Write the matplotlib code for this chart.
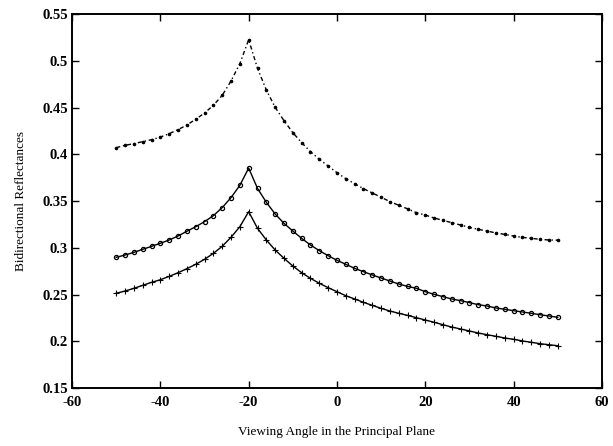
import numpy as np
import matplotlib
matplotlib.use("Agg")
import matplotlib.pyplot as plt

plt.rcParams['font.family'] = ['Liberation Serif', 'DejaVu Serif']

# viewing angles (degrees) in the principal plane
angles = list(range(-50, 51, 2))

# dashed series (dots)
refl_top = [0.407, 0.4096, 0.4113, 0.4135, 0.4156, 0.4184, 0.422, 0.4263,
            0.4313, 0.4374, 0.4441, 0.4523, 0.463, 0.4783, 0.4969, 0.5225,
            0.4919, 0.4687, 0.4502, 0.4359, 0.4231, 0.4124, 0.4028, 0.3946,
            0.3874, 0.3803, 0.3739, 0.3685, 0.3632, 0.3586, 0.354, 0.3493,
            0.3454, 0.3416, 0.3375, 0.335, 0.3318, 0.3293, 0.3268, 0.3243,
            0.3218, 0.3197, 0.3179, 0.3158, 0.3143, 0.3125, 0.3111, 0.3101,
            0.309, 0.3083, 0.3081]

# solid series (open circles)
refl_mid = [0.2898, 0.2922, 0.2951, 0.2983, 0.3015, 0.3048, 0.3083, 0.3126,
            0.3176, 0.3225, 0.3279, 0.3343, 0.3429, 0.3536, 0.3668, 0.3852,
            0.3635, 0.3486, 0.3361, 0.3261, 0.3179, 0.3101, 0.3029, 0.2969,
            0.2915, 0.2866, 0.2823, 0.278, 0.2744, 0.2709, 0.2676, 0.2644,
            0.2612, 0.2587, 0.2566, 0.253, 0.2502, 0.2477, 0.2452, 0.2434,
            0.2413, 0.2391, 0.2377, 0.2356, 0.2342, 0.2327, 0.2313, 0.2299,
            0.2284, 0.227, 0.2256]

# solid series (plus signs)
refl_low = [0.2513, 0.2537, 0.2566, 0.2598, 0.263, 0.2658, 0.2694, 0.2733,
            0.2776, 0.2823, 0.2876, 0.294, 0.3015, 0.3112, 0.3225, 0.3386,
            0.3208, 0.3083, 0.2976, 0.2887, 0.2805, 0.2733, 0.2673, 0.262,
            0.2573, 0.253, 0.2487, 0.2452, 0.2416, 0.2384, 0.2352, 0.2323,
            0.2299, 0.2277, 0.2252, 0.2227, 0.2203, 0.2177, 0.2152, 0.2131,
            0.211, 0.2088, 0.207, 0.2053, 0.2035, 0.2021, 0.2003, 0.1989,
            0.1974, 0.1963, 0.1952]

xticks = [-60, -40, -20, 0, 20, 40, 60]
yticks = [0.15, 0.2, 0.25, 0.3, 0.35, 0.4, 0.45, 0.5, 0.55]
ytick_labels = ['0.15', '0.2', '0.25', '0.3', '0.35', '0.4', '0.45', '0.5', '0.55']

fig = plt.figure(figsize=(6.13, 4.46), dpi=100)
ax = fig.add_axes([0.1175, 0.13, 0.8645, 0.8386])

ax.plot(angles, refl_top, color='black', linestyle=(0, (3, 2, 1, 2)),
        linewidth=1.0, marker='.', markersize=3.2)
ax.plot(angles, refl_mid, color='black', linestyle='-', linewidth=1.0,
        marker='o', markersize=3.0, markerfacecolor='none', markeredgewidth=0.9)
ax.plot(angles, refl_low, color='black', linestyle='-', linewidth=1.0,
        marker='+', markersize=4.2, markeredgewidth=0.8)

ax.set_xlim(-60, 60)
ax.set_ylim(0.15, 0.55)
ax.set_xticks(xticks)
ax.set_xticklabels([str(t) for t in xticks])
ax.set_yticks(yticks)
ax.set_yticklabels(ytick_labels)

ax.tick_params(direction='in', top=True, right=True, length=5, width=1.0,
               labelsize=10.5)
ax.tick_params(axis='x', pad=6)
ax.tick_params(axis='y', pad=3)
for s in ax.spines.values():
    s.set_linewidth(1.4)
for lab in ax.get_xticklabels() + ax.get_yticklabels():
    lab.set_fontweight('bold')

ax.set_xlabel('Viewing Angle in the Principal Plane', fontsize=9.5, labelpad=12)
ax.set_ylabel('Bidirectional Reflectances', fontsize=9.5, labelpad=11)

fig.savefig('out.png', dpi=100)
